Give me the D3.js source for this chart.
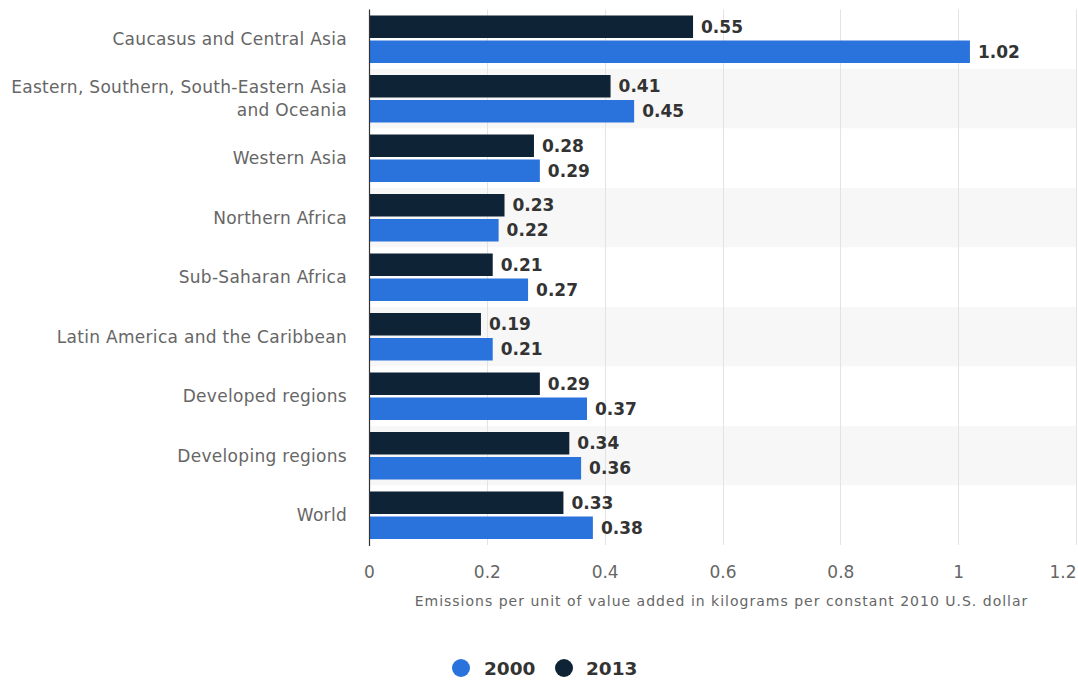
<!DOCTYPE html>
<html><head><meta charset="utf-8">
<script src="https://cdn.jsdelivr.net/npm/d3@7"></script>
<style>
html,body{margin:0;padding:0;background:#fff;}
svg{display:block;font-family:"DejaVu Sans",Verdana,sans-serif;}
</style></head>
<body><svg id="chart" width="1078" height="681"></svg>
<script>
const categories = ["Caucasus and Central Asia","Eastern, Southern, South-Eastern Asia and Oceania","Western Asia","Northern Africa","Sub-Saharan Africa","Latin America and the Caribbean","Developed regions","Developing regions","World"];
const values2013 = [0.55,0.41,0.28,0.23,0.21,0.19,0.29,0.34,0.33];
const values2000 = [1.02,0.45,0.29,0.22,0.27,0.21,0.37,0.36,0.38];
const seriesNames = ["2000","2013"];
const xTicks = [0,0.2,0.4,0.6,0.8,1,1.2];
const xTickLabels = ["0","0.2","0.4","0.6","0.8","1","1.2"];
const axisTitle = "Emissions per unit of value added in kilograms per constant 2010 U.S. dollar";

const colors = {"2000":"#2a73dc","2013":"#0f2337"};
const svg = d3.select("#chart");
const m = {left:369, right:1076, top:9.5, bottom:545};

const x = d3.scaleLinear().domain([0,1.2]).range([m.left, m.right]);
const y = d3.scaleBand().domain(categories).range([m.top, m.bottom]).padding(0);
const sub = d3.scaleBand().domain(["2013","2000"]).range([0, y.bandwidth()]).paddingInner(0.1).paddingOuter(0.24);

// bands
svg.append("g").selectAll("rect").data(categories).join("rect")
  .attr("x", m.left).attr("width", m.right - m.left)
  .attr("y", d => y(d)).attr("height", y.bandwidth())
  .attr("fill", (d,i) => i % 2 ? "#f7f7f7" : "#ffffff");

// gridlines
svg.append("g").selectAll("line").data(xTicks.slice(1)).join("line")
  .attr("x1", d => Math.round(x(d))+0.5).attr("x2", d => Math.round(x(d))+0.5)
  .attr("y1", m.top).attr("y2", m.bottom)
  .attr("stroke", "#e3e3e3").attr("stroke-width", 1);

// bars
const rows = categories.map((c,i) => ({c, v2013: values2013[i], v2000: values2000[i]}));
const g = svg.append("g");
rows.forEach(r => {
  [["2013", r.v2013], ["2000", r.v2000]].forEach(([s, v]) => {
    g.append("rect")
      .attr("x", x(0)).attr("y", y(r.c) + sub(s))
      .attr("width", x(v) - x(0)).attr("height", sub.bandwidth())
      .attr("fill", colors[s]);
    g.append("text")
      .attr("x", x(v) + 8).attr("y", y(r.c) + sub(s) + sub.bandwidth()/2)
      .attr("dy", "0.36em")
      .attr("font-size", 17).attr("font-weight", "bold").attr("fill", "#333")
      .text(v.toFixed(2));
  });
});

// axis line
svg.append("line").attr("x1", x(0)+0.5).attr("x2", x(0)+0.5)
  .attr("y1", m.top).attr("y2", m.bottom+1).attr("stroke", "#333").attr("stroke-width", 1.2);

// x axis
const xAxis = d3.axisBottom(x).tickValues(xTicks).tickFormat((d,i) => xTickLabels[i]).tickSize(0).tickPadding(0);
const ax = svg.append("g").attr("transform", `translate(0,${m.bottom})`).call(xAxis);
ax.select(".domain").remove();
ax.selectAll("text").attr("y", 33).attr("dy", "0").attr("font-size", 17).attr("fill", "#666")
  .attr("font-family", "DejaVu Sans, sans-serif")
  .attr("text-anchor", (d,i) => i === xTicks.length-1 ? "end" : "middle");

svg.append("text").attr("x", (m.left+m.right)/2 - 1).attr("y", 606)
  .attr("text-anchor", "middle").attr("font-size", 14).attr("letter-spacing", 1.0).attr("fill", "#666").text(axisTitle);

// category labels with wrap
const maxW = 345;
const lab = svg.append("g");
categories.forEach(c => {
  const t = lab.append("text").attr("text-anchor", "end").attr("font-size", 17).attr("letter-spacing", 0.3).attr("fill", "#666");
  const words = c.split(" ");
  let lines = [], line = [];
  const tmp = t.append("tspan");
  words.forEach(w => {
    line.push(w);
    tmp.text(line.join(" "));
    if (tmp.node().getComputedTextLength() > maxW && line.length > 1) {
      line.pop(); lines.push(line.join(" ")); line = [w];
    }
  });
  lines.push(line.join(" "));
  tmp.remove();
  const lh = 23;
  const cy = y(c) + y.bandwidth()/2;
  lines.forEach((ln, i) => {
    t.append("tspan").attr("x", 347).attr("y", cy + (i - (lines.length-1)/2)*lh).attr("dy", "0.36em").text(ln);
  });
});

// legend
const leg = svg.append("g");
const legItems = [{n:"2000", cx:461, tx:484}, {n:"2013", cx:564, tx:586}];
legItems.forEach(l => {
  leg.append("circle").attr("cx", l.cx).attr("cy", 668).attr("r", 9).attr("fill", colors[l.n]);
  leg.append("text").attr("x", l.tx).attr("y", 668).attr("dy", "0.36em")
    .attr("font-size", 18.5).attr("font-weight", "bold").attr("fill", "#333").text(l.n);
});
</script></body></html>
